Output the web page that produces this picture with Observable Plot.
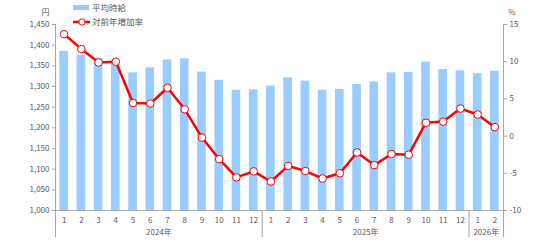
<!DOCTYPE html>
<html><head><meta charset="utf-8">
<script src="https://cdn.jsdelivr.net/npm/d3@7"></script>
<script src="https://cdn.jsdelivr.net/npm/@observablehq/plot@0.6"></script>
<style>
body{margin:0;background:#fff;}
#chart{position:relative;width:536px;height:246px;font-family:"Noto Sans CJK JP","Noto Sans",sans-serif;}
#legend{position:absolute;left:0;top:0;}
</style></head><body>
<div id="chart"><svg id="legend" width="200" height="30"></svg></div>
<script>
const months = [1,2,3,4,5,6,7,8,9,10,11,12,1,2,3,4,5,6,7,8,9,10,11,12,1,2];
const yearLabels = ["2024年","2025年","2026年"];
const yearStarts = [0,12,24];
const yearEnds = [12,24,26];
const avgWage = [1385,1376,1368,1362,1333,1345,1364,1367,1335,1315,1291,1292,
                 1301,1321,1313,1291,1293,1305,1311,1333,1334,1359,1341,1338,1331,1337];
const growthRate = [13.7,11.7,9.9,10.0,4.45,4.37,6.5,3.6,-0.2,-3.1,-5.55,-4.74,
                    -6.1,-4.0,-4.7,-5.7,-5.0,-2.2,-3.9,-2.4,-2.5,1.8,1.95,3.7,2.9,1.2];
const wageTicks = [1000,1050,1100,1150,1200,1250,1300,1350,1400,1450];
const rateTicks = [-10,-5,0,5,10,15];
const seriesNames = ["平均時給","対前年増加率"];
const units = ["円","%"];

const wMin = wageTicks[0], wMax = wageTicks[wageTicks.length-1];
const rMin = rateTicks[0], rMax = rateTicks[rateTicks.length-1];
const toY = r => wMin + (r - rMin) * (wMax - wMin) / (rMax - rMin);
const fromY = y => rMin + (y - wMin) * (rMax - rMin) / (wMax - wMin);

const data = months.map((m,i) => ({i, m, wage: avgWage[i], rate: growthRate[i]}));
const years = yearLabels.map((label,k) => ({label, start: yearStarts[k], end: yearEnds[k]}));

const axisColor = "#A6A6A6";
const textColor = "#595959";
const barColor = "#99CCFF";
const lineColor = "#FF0000";

const plot = Plot.plot({
  width: 536, height: 246,
  marginTop: 24, marginBottom: 36, marginLeft: 55, marginRight: 33,
  style: {fontFamily: '"Noto Sans CJK JP","Noto Sans",sans-serif', fontSize: "8px", color: textColor, background: "white"},
  x: {type: "linear", domain: [0, months.length], axis: null},
  y: {domain: [wMin, wMax], axis: null},
  marks: [
    Plot.rectY(data, {x1: d => d.i + 0.25, x2: d => d.i + 0.75, y1: wMin, y2: "wage", fill: barColor}),
    Plot.ruleY([wMin], {stroke: axisColor, strokeWidth: 1}),
    Plot.ruleX([0, months.length], {y1: wMax, y2: wMin, insetBottom: -27, stroke: axisColor, strokeWidth: 1}),
    Plot.ruleX([12, 24], {y1: wMin, y2: wMin, insetBottom: -27, stroke: axisColor, strokeWidth: 1}),
    Plot.axisY({anchor: "left", ticks: wageTicks, tickFormat: d3.format(","), tickSize: 3, tickPadding: 3, stroke: axisColor, fill: textColor, label: null}),
    Plot.axisY({anchor: "right", ticks: rateTicks.map(toY), tickFormat: d => String(Math.round(fromY(d))), tickSize: 3, tickPadding: 3, stroke: axisColor, fill: textColor, label: null}),
    Plot.axisX({ticks: months.map((m,i) => i + 0.5), tickFormat: d => String(months[Math.floor(d)]), tickSize: 0, tickPadding: 7, fill: textColor, label: null}),
    Plot.text(years, {x: d => (d.start + d.end) / 2, y: wMin, dy: 22, text: "label", fill: textColor, fontSize: 8}),
    Plot.lineY(data, {x: d => d.i + 0.5, y: d => toY(d.rate), stroke: lineColor, strokeWidth: 2.5}),
    Plot.dot(data, {x: d => d.i + 0.5, y: d => toY(d.rate), r: 3.8, fill: "white", stroke: lineColor, strokeWidth: 1}),
    Plot.text([units[0]], {frameAnchor: "top-left", dx: -14, dy: -15, text: d => d, fill: textColor, fontSize: 8}),
    Plot.text([units[1]], {frameAnchor: "top-right", dx: 12, dy: -15, text: d => d, fill: textColor, fontSize: 8})
  ]
});
document.getElementById("chart").appendChild(plot);

// legend
const lg = d3.select("#legend");
lg.append("rect").attr("x", 73).attr("y", 5).attr("width", 16).attr("height", 5).attr("fill", barColor);
lg.append("text").attr("x", 92).attr("y", 11).attr("font-size", 8.5).attr("fill", textColor).text(seriesNames[0]);
lg.append("line").attr("x1", 73).attr("x2", 90).attr("y1", 22).attr("y2", 22).attr("stroke", lineColor).attr("stroke-width", 2.5);
lg.append("circle").attr("cx", 82).attr("cy", 22).attr("r", 3.2).attr("fill", "white").attr("stroke", lineColor).attr("stroke-width", 1);
lg.append("text").attr("x", 92).attr("y", 25).attr("font-size", 8.5).attr("fill", textColor).text(seriesNames[1]);
document.getElementById("chart").appendChild(document.getElementById("legend"));
</script>
</body></html>
